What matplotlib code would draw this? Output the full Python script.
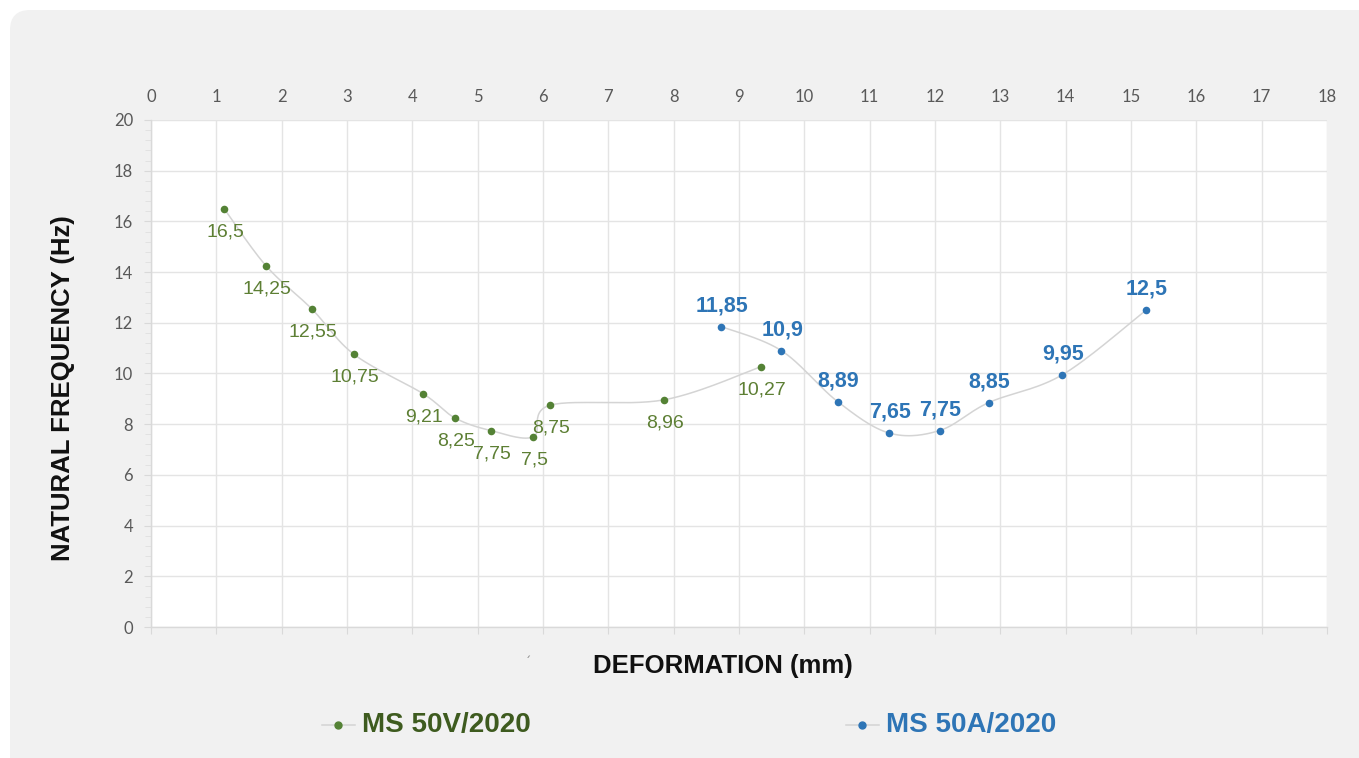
import numpy as np
import matplotlib
matplotlib.use("Agg")
import matplotlib.pyplot as plt
from matplotlib.patches import FancyBboxPatch
from matplotlib.lines import Line2D
from matplotlib.ticker import MultipleLocator

# ---- data ----
v_x = [1.12, 1.76, 2.46, 3.11, 4.16, 4.65, 5.20, 5.85, 6.11, 7.85, 9.34]
v_y = [16.5, 14.25, 12.55, 10.75, 9.21, 8.25, 7.75, 7.5, 8.75, 8.96, 10.27]
a_x = [8.73, 9.65, 10.51, 11.30, 12.07, 12.82, 13.95, 15.23]
a_y = [11.85, 10.9, 8.89, 7.65, 7.75, 8.85, 9.95, 12.5]
series_names = ["MS 50V/2020", "MS 50A/2020"]
x_ticks = list(range(0, 19))
y_ticks = list(range(0, 21, 2))

GREEN = "#548235"
GREEN_LBL = "#5d7f34"
GREEN_LEG = "#3e5b1f"
BLUE = "#2e75b6"
LINE = "#d4d4d4"
GRID = "#e4e4e4"

W, H = 1359, 758
fig = plt.figure(figsize=(W / 100, H / 100), dpi=100, facecolor="white")
card = FancyBboxPatch((10, -60), 1400, H - 10 + 60, boxstyle="round,pad=0,rounding_size=20",
                      transform=None, facecolor="#f1f1f1", edgecolor="none", zorder=-10)
fig.patches.append(card)

ax = fig.add_axes([151 / W, 1 - 627 / H, (1327 - 151) / W, (627 - 120) / H])
ax.set_zorder(5)
ax.set_facecolor("white")
ax.set_xlim(0, 18)
ax.set_ylim(0, 20)
ax.set_xticks(x_ticks)
ax.set_yticks(y_ticks)
ax.yaxis.set_minor_locator(MultipleLocator(0.4))
ax.grid(True, which="major", color=GRID, lw=1.0, zorder=0)
ax.set_axisbelow(True)
for s in ["top", "right"]:
    ax.spines[s].set_visible(False)
for s in ["left", "bottom"]:
    ax.spines[s].set_color("#d9d9d9")
    ax.spines[s].set_linewidth(1.0)

ax.tick_params(axis="x", top=False, labeltop=True, bottom=True, labelbottom=False,
               length=5, color="#d9d9d9", labelcolor="#595959", labelsize=12, pad=6)
ax.tick_params(axis="y", which="major", length=5, color="#d9d9d9", labelcolor="#595959",
               labelsize=12, pad=8)
ax.tick_params(axis="y", which="minor", length=4, color="#e0e0e0")
for lbl in ax.get_xticklabels() + ax.get_yticklabels():
    lbl.set_family("Lato")


def smooth(xs, ys, n=30):
    fig.canvas.draw()
    pts = ax.transData.transform(np.column_stack([xs, ys]))
    out = []
    m = len(pts)
    for i in range(m - 1):
        p0 = pts[i - 1] if i > 0 else pts[i]
        p1 = pts[i]
        p2 = pts[i + 1]
        p3 = pts[i + 2] if i + 2 < m else pts[i + 1]
        c1 = p1 + (p2 - p0) / 6.0
        c2 = p2 - (p3 - p1) / 6.0
        t = np.linspace(0, 1, n)[:, None]
        seg = ((1 - t) ** 3) * p1 + 3 * ((1 - t) ** 2) * t * c1 + 3 * (1 - t) * t ** 2 * c2 + t ** 3 * p2
        out.append(seg if i == 0 else seg[1:])
    out = np.vstack(out)
    d = ax.transData.inverted().transform(out)
    return d[:, 0], d[:, 1]


def fmt(v):
    return f"{v:g}".replace(".", ",")


sx, sy = smooth(v_x, v_y)
ax.plot(sx, sy, color=LINE, lw=1.1, zorder=2)
ax.scatter(v_x, v_y, s=30, color=GREEN, zorder=3, linewidths=0)
for x, y in zip(v_x, v_y):
    ax.annotate(fmt(y), (x, y), xytext=(1, -23), textcoords="offset pixels",
                ha="center", va="center", color=GREEN_LBL, fontsize=14,
                family="Liberation Sans", zorder=4)

sx, sy = smooth(a_x, a_y)
ax.plot(sx, sy, color=LINE, lw=1.1, zorder=2)
ax.scatter(a_x, a_y, s=30, color=BLUE, zorder=3, linewidths=0)
for x, y in zip(a_x, a_y):
    ax.annotate(fmt(y), (x, y), xytext=(1, 21), textcoords="offset pixels",
                ha="center", va="center", color=BLUE, fontsize=15.5, fontweight="bold",
                family="Liberation Sans", zorder=4)

# axis titles
fig.text(723 / W, 1 - 666 / H, "DEFORMATION (mm)", ha="center", va="center",
         fontsize=18.5, fontweight="bold", family="Liberation Sans", color="#111111")
fig.text(63 / W, 1 - 388 / H, "NATURAL FREQUENCY (Hz)", ha="center", va="center",
         rotation=90, fontsize=18.5, fontweight="bold", family="Liberation Sans", color="#111111")
fig.text(528 / W, 1 - 662 / H, "\u00b4", ha="center", va="center", fontsize=9, color="#888888")

# legend
for (lx0, lx1, mx, tx, col, tcol, name) in [
    (322, 355, 338, 362, GREEN, GREEN_LEG, series_names[0]),
    (846, 879, 862, 886, BLUE, BLUE, series_names[1]),
]:
    yy = 1 - 725 / H
    fig.add_artist(Line2D([lx0 / W, lx1 / W], [yy, yy], color=LINE, lw=1.1,
                          transform=fig.transFigure))
    fig.add_artist(Line2D([mx / W], [yy], marker="o", ms=5, color=col, lw=0,
                          transform=fig.transFigure))
    fig.text(tx / W, yy, name, ha="left", va="center", fontsize=20, fontweight="bold",
             family="Liberation Sans", color=tcol)

fig.savefig("out.png", dpi=100, facecolor="white")
